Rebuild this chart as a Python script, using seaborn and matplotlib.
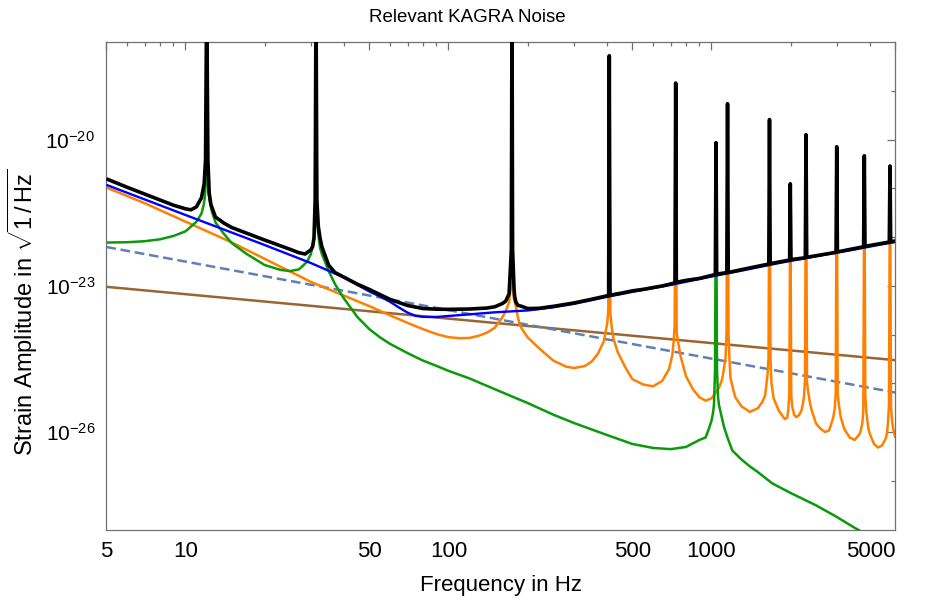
import matplotlib
matplotlib.use("Agg")
import matplotlib.pyplot as plt
import seaborn as sns
import pandas as pd
from matplotlib.ticker import FixedLocator, FixedFormatter, NullFormatter

# ---------------- data ----------------
freq_ticks = [5, 10, 50, 100, 500, 1000, 5000]
freq_tick_labels = ["5", "10", "50", "100", "500", "1000", "5000"]
freq_minor_ticks = [6, 7, 8, 9, 20, 30, 40, 60, 70, 80, 90, 200, 300, 400,
                    600, 700, 800, 900, 2000, 3000, 4000]
strain_ticks = [1e-26, 1e-23, 1e-20]
strain_tick_labels = [r"$10^{-26}$", r"$10^{-23}$", r"$10^{-20}$"]
strain_minor_ticks = [1e-27, 1e-25, 1e-24, 1e-22, 1e-21, 1e-19]

title_text = "Relevant KAGRA Noise"
x_label_text = "Frequency in Hz"
y_label_text = r"Strain Amplitude in $\sqrt{1\,/\,\mathrm{Hz}}$"

# (frequency in Hz, strain amplitude)
total_noise = [
    (5, 1.58e-21), (6, 1.06e-21), (8, 5.81e-22), (9, 4.54e-22), (10, 3.83e-22),
    (10.5, 3.65e-22), (11, 4.19e-22), (11.5, 6.41e-22), (11.78, 1.25e-21),
    (11.92, 3.88e-21), (12.04, 1e-17), (12.17, 3.88e-21), (12.31, 8.04e-22),
    (12.5, 4.63e-22), (13, 2.60e-22), (14, 1.95e-22), (15, 1.58e-22),
    (20, 8.76e-23), (25, 5.64e-23), (27, 4.81e-23), (28.5, 4.52e-23),
    (30, 5.54e-23), (30.45, 6.44e-23), (30.81, 9.72e-23), (31.13, 5.86e-22),
    (31.36, 1e-17), (31.59, 5.86e-22), (32.0, 1.66e-22), (32.47, 9.72e-23),
    (33, 6.41e-23), (35, 2.69e-23), (37, 1.89e-23), (40, 1.52e-23),
    (45, 1.09e-23), (50, 8.48e-24), (60, 5.28e-24), (70, 3.96e-24),
    (80, 3.44e-24), (90, 3.34e-24), (100, 3.31e-24), (120, 3.36e-24),
    (140, 3.52e-24), (150, 3.74e-24), (160, 4.33e-24), (165, 4.87e-24),
    (170, 6.88e-24), (173.4, 5.51e-23), (174.4, 1e-17), (175.3, 5.51e-23),
    (177.5, 9.14e-24), (178.5, 6.06e-24), (180.6, 4.61e-24), (183.8, 4.00e-24),
    (190, 3.81e-24), (200, 3.44e-24), (220, 3.47e-24), (250, 3.81e-24),
    (300, 4.48e-24), (350, 5.33e-24), (400, 6.26e-24),
    (406.4, 6.30e-24), (408.8, 5.3e-19), (411.2, 6.47e-24),
    (450, 7.05e-24), (500, 7.93e-24), (550, 8.52e-24), (600, 9.27e-24),
    (650, 1.00e-23), (700, 1.10e-23),
    (726.6, 1.16e-23), (731, 1.46e-19), (735.4, 1.19e-23),
    (800, 1.30e-23), (900, 1.43e-23), (1000, 1.64e-23),
    (1034.4, 1.71e-23), (1040.6, 8.7e-21), (1046.8, 1.75e-23),
    (1144, 1.88e-23), (1151, 5.5e-20), (1158, 1.89e-23),
    (1300, 2.16e-23), (1450, 2.44e-23),
    (1652, 2.82e-23), (1662, 2.6e-20), (1672, 2.87e-23),
    (1982, 3.40e-23), (1994, 1.25e-21), (2006, 3.47e-23),
    (2274, 3.79e-23), (2288, 1.27e-20), (2302, 3.87e-23),
    (2600, 4.33e-23),
    (2976, 4.90e-23), (2994, 7.2e-21), (3012, 4.99e-23),
    (3400, 5.69e-23),
    (3789, 6.38e-23), (3812, 4.7e-21), (3835, 6.50e-23),
    (4300, 7.25e-23),
    (4744, 7.97e-23), (4773, 2.9e-21), (4802, 8.08e-23), (5000, 8.36e-23),
]

blue_noise = [
    (5, 1.19e-21), (10, 2.86e-22), (20, 6.92e-23), (30, 2.95e-23),
    (40, 1.50e-23), (50, 7.71e-24), (55, 6.06e-24), (60, 4.72e-24),
    (65, 3.58e-24), (70, 2.82e-24), (75, 2.44e-24), (80, 2.32e-24),
    (90, 2.31e-24), (100, 2.42e-24), (120, 2.61e-24), (150, 2.88e-24),
    (200, 3.14e-24), (250, 3.64e-24), (300, 4.29e-24), (400, 5.97e-24),
    (500, 7.56e-24), (700, 1.05e-23), (1000, 1.56e-23), (1300, 2.06e-23),
    (1800, 2.94e-23), (2600, 4.23e-23), (3400, 5.43e-23), (4300, 6.92e-23),
    (5000, 7.97e-23),
]

green_noise = [
    (5, 7.78e-23), (6, 7.89e-23), (7, 8.28e-23), (8, 9.06e-23), (9, 1.06e-22),
    (10, 1.32e-22), (11, 2.07e-22), (11.5, 3.04e-22), (11.73, 4.63e-22),
    (11.83, 6.14e-22), (11.94, 1.19e-21), (12.04, 1e-17), (12.15, 1.51e-21),
    (12.25, 7.78e-22), (12.36, 5.59e-22), (12.58, 3.48e-22), (13, 2.02e-22),
    (14, 1.17e-22), (15, 7.56e-23), (17, 4.61e-23), (20, 2.69e-23),
    (23, 2.13e-23), (25, 2.02e-23), (27, 2.19e-23), (29, 3.13e-23),
    (30, 4.56e-23), (30.55, 7.32e-23), (30.81, 9.0e-23), (31.09, 2.88e-22),
    (31.36, 1e-17), (31.63, 2.88e-22), (31.92, 1.29e-22), (32.48, 6.06e-23),
    (33, 4.56e-23), (35, 2.04e-23), (37, 1.10e-23), (40, 5.56e-24),
    (45, 2.32e-24), (50, 1.30e-24), (55, 8.76e-25), (60, 6.47e-25),
    (70, 4.17e-25), (80, 2.94e-25), (90, 2.29e-25), (100, 1.81e-25),
    (120, 1.27e-25), (150, 7.60e-26), (200, 3.96e-26), (250, 2.29e-26),
    (300, 1.54e-26), (400, 8.76e-27), (500, 5.72e-27), (600, 4.74e-27),
    (700, 4.48e-27), (800, 4.97e-27), (900, 6.92e-27), (950, 7.78e-27),
    (980, 1.22e-26), (1000, 1.70e-26), (1015, 2.60e-26), (1022.5, 3.79e-26),
    (1031.6, 1.89e-25), (1040.6, 8.7e-21), (1049.7, 1.89e-25), (1059, 5.28e-26),
    (1068, 3.62e-26), (1087, 2.36e-26), (1116, 1.28e-26), (1150, 7.78e-27),
    (1200, 4.21e-27), (1300, 2.75e-27), (1400, 1.98e-27), (1500, 1.52e-27),
    (1700, 8.93e-28), (2000, 5.64e-28), (2500, 3.14e-28), (3000, 1.81e-28),
    (3500, 1.09e-28), (4000, 7.39e-29),
]

orange_noise = [
    (5, 1.05e-21), (7, 4.99e-22), (10, 2.09e-22), (15, 7.82e-23), (20, 3.60e-23),
    (30, 1.21e-23), (40, 6.35e-24), (50, 3.85e-24), (60, 2.49e-24),
    (70, 1.74e-24), (80, 1.30e-24), (90, 1.03e-24), (100, 8.89e-25),
    (110, 8.48e-25), (120, 8.56e-25), (130, 9.45e-25), (140, 1.10e-24),
    (150, 1.39e-24), (160, 2.23e-24), (165, 3.02e-24), (170, 4.63e-24),
    (172.9, 1.05e-23), (174.4, 1e-17), (175.9, 8.32e-24), (177.5, 5.43e-24),
    (180.6, 3.72e-24), (183.8, 2.21e-24), (187.0, 1.59e-24), (190, 1.33e-24),
    (200, 8.80e-25), (220, 5.38e-25), (250, 2.95e-25), (280, 2.21e-25),
    (300, 2.07e-25), (330, 2.27e-25), (350, 2.80e-25), (370, 4.05e-25),
    (390, 7.42e-25), (401.7, 1.74e-24), (405.2, 3.23e-24), (408.8, 5.3e-19),
    (412.4, 2.94e-24), (416.0, 1.67e-24), (423.4, 8.48e-25), (440, 4.39e-25),
    (470, 2.15e-25), (500, 1.23e-25), (550, 9.49e-26), (600, 8.72e-26),
    (650, 1.13e-25), (690, 1.98e-25), (710, 3.85e-25), (718.3, 7.46e-25),
    (724.6, 1.59e-24), (731, 1.46e-19), (737.4, 1.09e-24), (750.4, 6.03e-25),
    (763.6, 3.55e-25), (800, 1.41e-25), (850, 7.60e-26), (900, 5.18e-26),
    (950, 4.43e-26), (1000, 4.92e-26), (1070, 8.24e-26), (1100, 1.26e-25),
    (1131, 3.34e-25), (1141, 1.09e-24), (1151, 5.5e-20), (1161, 9.91e-25),
    (1171, 3.04e-25), (1181, 1.30e-25), (1200, 8.93e-26), (1230, 5.28e-26),
    (1300, 3.39e-26), (1400, 2.60e-26), (1500, 3.10e-26), (1560, 4.15e-26),
    (1600, 5.67e-26), (1633, 1.49e-25), (1648, 3.34e-25), (1662, 2.6e-20),
    (1677, 3.04e-25), (1691, 1.02e-25), (1721, 5.04e-26), (1800, 2.79e-26),
    (1900, 1.85e-26), (1942, 2.00e-26), (1959, 2.86e-26), (1977, 6.09e-26),
    (1994, 1.25e-21), (2011, 5.54e-26), (2029, 3.29e-26), (2065, 2.26e-26),
    (2100, 2.03e-26), (2150, 2.22e-26), (2200, 2.80e-26), (2229, 3.98e-26),
    (2248, 5.36e-26), (2268, 1.18e-25), (2288, 1.27e-20), (2308, 1.07e-25),
    (2329, 7.01e-26), (2369, 3.98e-26), (2400, 2.90e-26), (2500, 1.49e-26),
    (2600, 1.17e-26), (2700, 1.01e-26), (2800, 1.08e-26), (2900, 1.93e-26),
    (2942, 3.00e-26), (2968, 6.38e-26), (2994, 7.2e-21), (3020, 6.38e-26),
    (3047, 3.79e-26), (3100, 2.05e-26), (3200, 1.16e-26), (3350, 7.78e-27),
    (3500, 6.92e-27), (3650, 8.97e-27), (3700, 1.11e-26), (3746, 1.52e-26),
    (3779, 2.86e-26), (3812, 4.7e-21), (3846, 5.54e-26), (3879, 2.60e-26),
    (3947, 1.22e-26), (4000, 9.18e-27), (4150, 5.72e-27), (4300, 4.83e-27),
    (4450, 5.33e-27), (4600, 7.42e-27), (4649, 9.63e-27), (4690, 1.55e-26),
    (4731, 3.62e-26), (4773, 2.9e-21), (4815, 3.34e-26), (4857, 1.78e-26),
    (4900, 1.22e-26), (5000, 7.60e-27),
]

dashed_noise = [(5.0, 6.3e-23), (5000.0, 6.5e-26)]
brown_noise = [(5.0, 9.6e-24), (5000.0, 3.0e-25)]

# ---------------- style ----------------
sns.set_theme(style="white")
plt.rcParams["font.family"] = ["Liberation Sans", "DejaVu Sans"]
plt.rcParams["mathtext.fontset"] = "custom"
plt.rcParams["mathtext.rm"] = "Liberation Sans"
plt.rcParams["mathtext.it"] = "Liberation Sans:italic"
plt.rcParams["mathtext.bf"] = "Liberation Sans:bold"
plt.rcParams["mathtext.sf"] = "Liberation Sans"
plt.rcParams["lines.scale_dashes"] = False

frame_gray = "#707070"
xtick_fs = 16
ytick_fs = 15
xlabel_fs = 16
ylabel_fs = 17
title_fs = 13.5

fig = plt.figure(figsize=(9.35, 6.03), dpi=100)
fig.patch.set_facecolor("white")
ax = fig.add_axes([0.11369, 0.12172, 0.84385, 0.80813])
ax.set_facecolor("white")


def draw(points, color, lw, z, dashes=None):
    df = pd.DataFrame(points, columns=["f", "h"])
    sns.lineplot(data=df, x="f", y="h", ax=ax, sort=False, estimator=None,
                 color=color, linewidth=lw, zorder=z)
    line = ax.lines[-1]
    line.set_solid_joinstyle("round")
    line.set_solid_capstyle("butt")
    if dashes is not None:
        line.set_dashes(dashes)


draw(brown_noise, "#996633", 1.8, 2.0)
draw(dashed_noise, "#5e81b5", 1.8, 2.1, dashes=[7, 3.4])
draw(orange_noise, "#ff8000", 1.8, 2.4)
draw(green_noise, "#0a9a0a", 1.8, 2.5)
draw(blue_noise, "#0000ff", 1.7, 2.6)
draw(total_noise, "#000000", 2.6, 3.0)

ax.set_xscale("log")
ax.set_yscale("log")
ax.set_xlim(5, 5000)
ax.set_ylim(1e-28, 1e-18)

ax.xaxis.set_major_locator(FixedLocator(freq_ticks))
ax.xaxis.set_major_formatter(FixedFormatter(freq_tick_labels))
ax.xaxis.set_minor_locator(FixedLocator(freq_minor_ticks))
ax.xaxis.set_minor_formatter(NullFormatter())
ax.yaxis.set_major_locator(FixedLocator(strain_ticks))
ax.yaxis.set_major_formatter(FixedFormatter(strain_tick_labels))
ax.yaxis.set_minor_locator(FixedLocator(strain_minor_ticks))
ax.yaxis.set_minor_formatter(NullFormatter())

ax.tick_params(which="both", direction="in", top=True, right=True,
               color=frame_gray, width=0.9)
ax.tick_params(which="major", length=5.8, labelcolor="black")
ax.tick_params(which="minor", length=2.9)
ax.tick_params(axis="x", which="major", pad=8, labelsize=xtick_fs)
ax.tick_params(axis="y", which="major", pad=8, labelsize=ytick_fs)
ax.set_xlabel("")
ax.set_ylabel("")
for sp in ax.spines.values():
    sp.set_color(frame_gray)
    sp.set_linewidth(0.9)
    sp.set_visible(True)
ax.grid(False)

fig.canvas.draw()
xlabels = ax.get_xticklabels()
xlabels[-1].set_horizontalalignment("right")

fig.text(0.5, 1 - 17 / 603, title_text, ha="center", va="center",
         fontsize=title_fs, color="black")
fig.text(500.8 / 935, 1 - 585 / 603, x_label_text, ha="center", va="center",
         fontsize=xlabel_fs, color="black")
fig.text(23 / 935, 1 - 312 / 603, y_label_text, ha="center", va="center",
         rotation=90, fontsize=ylabel_fs, color="black")

fig.savefig("out.png", dpi=100, facecolor="white")
